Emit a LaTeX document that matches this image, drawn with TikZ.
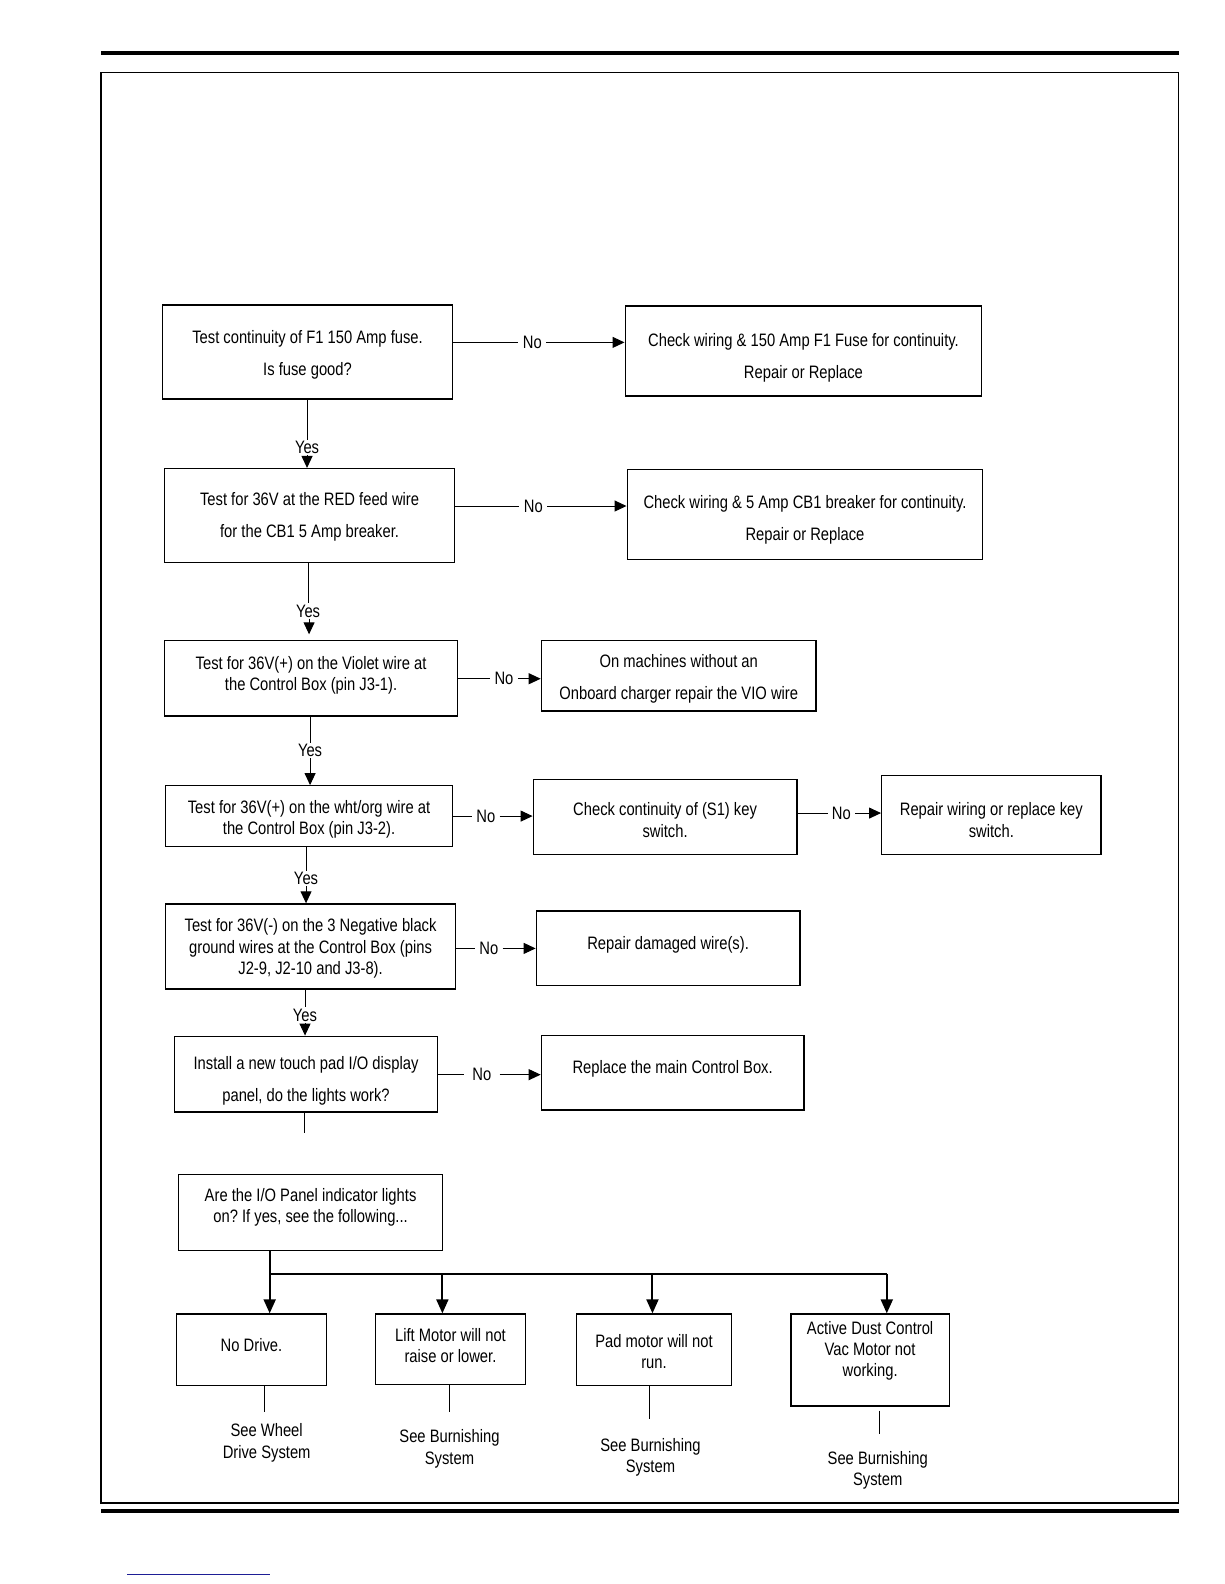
\documentclass[tikz,border=0pt]{standalone}
\usepackage{fontspec}
\setmainfont{Liberation Sans}[FakeStretch=0.82]
\usetikzlibrary{arrows.meta}
\definecolor{linkblue}{RGB}{30,30,150}
\frenchspacing
\tikzset{
  box/.style={draw, line width=0.7pt, inner sep=0pt},
  txt/.style={align=center, font=\fontsize{9}{10.6}\selectfont\frenchspacing, inner sep=0pt},
  lbl/.style={font=\fontsize{9}{10.6}\selectfont, inner sep=2pt},
  ylbl/.style={font=\fontsize{9}{10.6}\selectfont, inner sep=0.5pt},
  conn/.style={line width=0.5pt},
  arr/.style={-{Triangle[length=6pt,width=5.5pt]}},
  barr/.style={-{Triangle[length=7pt,width=6pt]}},
  tree/.style={line width=1pt},
}
\newcommand\flowbox[7]{%
  \node[box, minimum width={(#4-#2)*0.505pt}, minimum height={(#5-#3)*0.505pt}] (#1) at ({(#2+#4)/2},{(#3+#5)/2}) {};
  \node[txt] (#1t) at ({(#2+#4)/2},{#6+2}) {#7};}
\begin{document}
\begin{tikzpicture}[x=0.505pt,y=-0.505pt]
\useasboundingbox (0,0) rectangle (1212,1568.3);
% page rules and frame
\draw[line width=2pt] (100,52) -- (1167,52);
\draw[line width=0.6pt] (100,72) rectangle (1167,1488);
\draw[line width=2.2pt] (100,1496) -- (1167,1496);
\draw[linkblue, line width=0.5pt] (126,1559) -- (267,1559);

% main column
\flowbox{b1}{161}{302}{448}{395}{349}{Test continuity of F1 150 Amp fuse.\\[5.4pt]Is fuse good?}
\flowbox{b2}{163}{464}{450}{557}{510}{Test for 36V at the RED feed wire\\[5.4pt]for the CB1 5 Amp breaker.}
\flowbox{b3}{163}{634}{453}{709}{666.5}{Test for 36V(+) on the Violet wire at\\the Control Box (pin J3-1).}
\flowbox{b4}{164}{778}{448}{838}{809.5}{Test for 36V(+) on the wht/org wire at\\the Control Box (pin J3-2).}
\flowbox{b5}{164}{895}{451}{979}{937}{Test for 36V(-) on the 3 Negative black\\ground wires at the Control Box (pins\\J2-9, J2-10 and J3-8).}
\flowbox{b6}{173}{1026}{433}{1101}{1068}{Install a new touch pad I/O display\\[5.4pt]panel, do the lights work?}

% right column
\flowbox{r1}{619}{303}{972}{392}{352}{Check wiring \& 150 Amp F1 Fuse for continuity.\\[5.4pt]Repair or Replace}
\flowbox{r2}{621}{465}{973}{554}{513}{Check wiring \& 5 Amp CB1 breaker for continuity.\\[5.4pt]Repair or Replace}
\flowbox{r3}{536}{634}{808}{704}{670}{On machines without an\\[5.4pt]Onboard charger repair the VIO wire}
\flowbox{r4}{528}{772}{789}{846}{810}{Check continuity of (S1) key\\switch.}
\flowbox{r5}{873}{768}{1090}{846}{810}{Repair wiring or replace key\\switch.}
\flowbox{r6}{531}{902}{792}{976}{933}{Repair damaged wire(s).}
\flowbox{r7}{536}{1025}{796}{1099}{1056}{Replace the main Control Box.}

% No connectors
\node[lbl] (n1) at (527,339) {No};
\draw[conn] (b1.east |- n1) -- (n1);
\draw[conn,arr] (n1) -- (n1 -| r1.west);
\node[lbl] (n2) at (528,501) {No};
\draw[conn] (b2.east |- n2) -- (n2);
\draw[conn,arr] (n2) -- (n2 -| r2.west);
\node[lbl] (n3) at (499,672) {No};
\draw[conn] (b3.east |- n3) -- (n3);
\draw[conn,arr] (n3) -- (n3 -| r3.west);
\node[lbl] (n4) at (481,808) {No};
\draw[conn] (b4.east |- n4) -- (n4);
\draw[conn,arr] (n4) -- (n4 -| r4.west);
\node[lbl] (n5) at (833,805) {No};
\draw[conn] (r4.east |- n5) -- (n5);
\draw[conn,arr] (n5) -- (n5 -| r5.west);
\node[lbl] (n6) at (484,939) {No};
\draw[conn] (b5.east |- n6) -- (n6);
\draw[conn,arr] (n6) -- (n6 -| r6.west);
\node[lbl, inner xsep=4pt] (n7) at (477,1064) {No};
\draw[conn] (b6.east |- n7) -- (n7);
\draw[conn,arr] (n7) -- (n7 -| r7.west);

% Yes connectors
\node[ylbl] (y1) at (304,443) {Yes};
\draw[conn] (y1 |- b1.south) -- (y1.north);
\draw[conn,arr] (y1.south) -- (y1 |- b2.north);
\node[ylbl] (y2) at (305,605) {Yes};
\coordinate (t2) at (306,628);
\draw[conn] (y2 |- b2.south) -- (y2.north);
\draw[conn,arr] (y2.south -| t2) -- (t2);
\node[ylbl] (y3) at (307,743) {Yes};
\draw[conn] (y3 |- b3.south) -- (y3.north);
\draw[conn,arr] (y3.south) -- (y3 |- b4.north);
\node[ylbl] (y4) at (303,870) {Yes};
\draw[conn] (y4 |- b4.south) -- (y4.north);
\draw[conn,arr] (y4.south) -- (y4 |- b5.north);
\node[ylbl] (y5) at (302,1005) {Yes};
\draw[conn] (y5 |- b5.south) -- (y5.north);
\draw[conn,arr] (y5.south) -- (y5 |- b6.north);
\coordinate (e6) at (301,1122);
\draw[conn] (e6 |- b6.south) -- (e6);

% lower section
\flowbox{b7}{177}{1163}{438}{1238}{1193}{Are the I/O Panel indicator lights\\on? If yes, see the following...}
\flowbox{c1}{175}{1301}{323}{1372}{1330}{No Drive.}
\flowbox{c2}{372}{1301}{520}{1371}{1330}{Lift Motor will not\\raise or lower.}
\flowbox{c3}{571}{1301}{724}{1372}{1336.5}{Pad motor will not\\run.}
\flowbox{c4}{783}{1301}{940}{1392}{1335.5}{Active Dust Control\\Vac Motor not\\working.}

\coordinate (j1) at (267,1261);
\coordinate (j2) at (438,1261);
\coordinate (j3) at (646,1261);
\coordinate (j4) at (878,1261);
\draw[tree] (j1 |- b7.south) -- (j1);
\draw[tree] (j1) -- (j4);
\draw[tree,barr] (j1) -- (j1 |- c1.north);
\draw[tree,barr] (j2) -- (j2 |- c2.north);
\draw[tree,barr] (j3) -- (j3 |- c3.north);
\draw[tree,barr] (j4) -- (j4 |- c4.north);

\node[txt] (s1) at (264,1428.5) {See Wheel\\Drive System};
\node[txt] (s2) at (445,1434.5) {See Burnishing\\System};
\node[txt] (s3) at (644,1442.5) {See Burnishing\\System};
\node[txt] (s4) at (869,1455.5) {See Burnishing\\System};
\coordinate (d1) at (262,1398);
\coordinate (d2) at (445,1398);
\coordinate (d3) at (643,1405);
\coordinate (d4) at (871,1420);
\draw[conn] (d1 |- c1.south) -- (d1);
\draw[conn] (d2 |- c2.south) -- (d2);
\draw[conn] (d3 |- c3.south) -- (d3);
\draw[conn] (d4 |- c4.south) ++(0,4) -- (d4);
\end{tikzpicture}
\end{document}
